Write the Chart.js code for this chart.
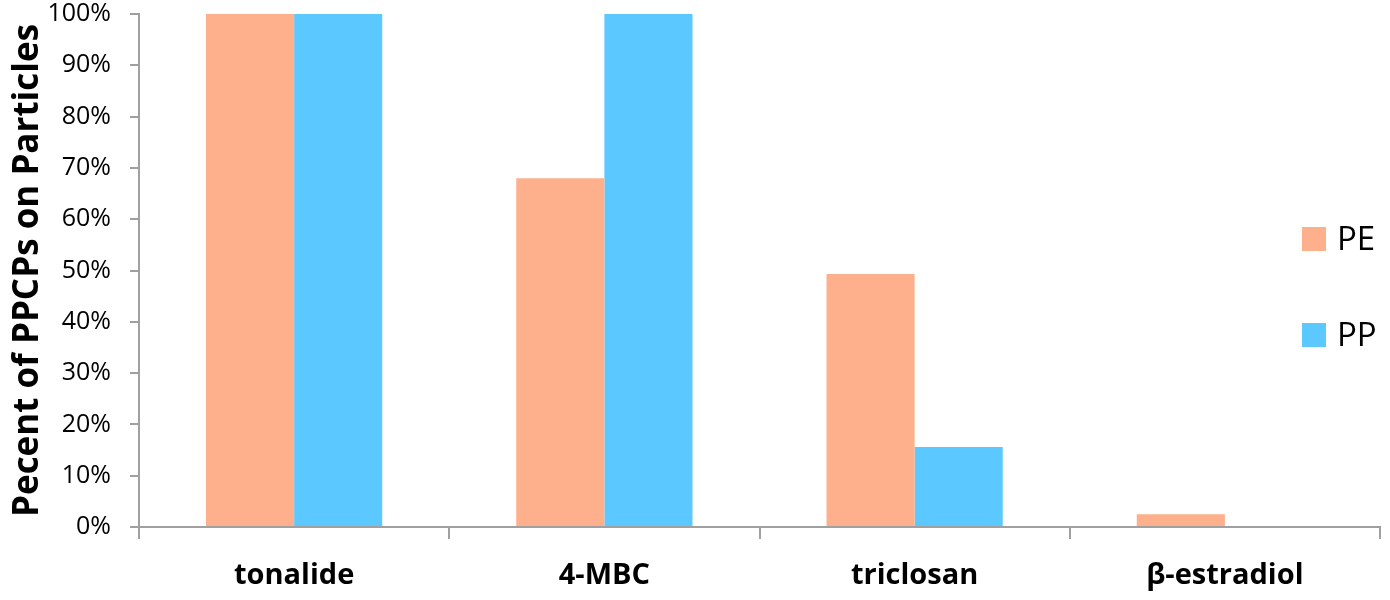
<!DOCTYPE html>
<html><head><meta charset="utf-8">
<script src="https://cdn.jsdelivr.net/npm/chart.js@4"></script>
<style>html,body{margin:0;padding:0;background:#fff}#wrap{width:1390px;height:600px}</style>
</head><body><div id="wrap"><canvas id="c" width="1390" height="600"></canvas></div>
<script>
const categories = ["tonalide", "4-MBC", "triclosan", "β-estradiol"];
const seriesNames = ["PE", "PP"];
const peValues = [100, 68, 49.3, 2.5];
const ppValues = [100, 100, 15.6, 0];
const yTicks = [0,10,20,30,40,50,60,70,80,90,100];
const yTitle = "Pecent of PPCPs on Particles";
const FONT = "'Open Sans', 'Noto Sans', sans-serif";
const colors = ["#FDB08B", "#5BC9FF"];

const legendPlugin = {
  id: 'customLegend',
  afterDraw(chart) {
    const ctx = chart.ctx, a = chart.chartArea;
    ctx.save();
    ctx.font = "33px " + FONT;
    ctx.textBaseline = 'middle';
    chart.data.datasets.forEach((ds, i) => {
      const cy = 239 + i * 96;
      const bx = a.right - 78;
      ctx.fillStyle = ds.backgroundColor;
      ctx.fillRect(bx, cy - 12, 24, 24);
      ctx.fillStyle = '#000';
      ctx.fillText(ds.label, bx + 35, cy + 2);
    });
    ctx.restore();
  }
};

new Chart(document.getElementById('c'), {
  type: 'bar',
  data: {
    labels: categories,
    datasets: [
      { label: seriesNames[0], data: peValues, backgroundColor: colors[0], borderWidth: 0 },
      { label: seriesNames[1], data: ppValues, backgroundColor: colors[1], borderWidth: 0 }
    ]
  },
  options: {
    responsive: false,
    animation: false,
    layout: { padding: { top: 14, right: 10, left: 0, bottom: 0 } },
    plugins: { legend: { display: false }, tooltip: { enabled: false } },
    datasets: { bar: { categoryPercentage: 0.568, barPercentage: 1.0 } },
    scales: {
      x: {
        grid: { display: true, drawOnChartArea: false, drawTicks: true, tickLength: 12, color: '#a0a0a0', lineWidth: 2, offset: true },
        border: { display: true, color: '#a0a0a0', width: 2 },
        ticks: { color: '#000', font: { family: FONT, size: 29, weight: 'bold' }, padding: 19 },
        afterFit(s) { s.height = 73; s.paddingLeft = 0; s.paddingRight = 0; }
      },
      y: {
        min: 0, max: 100,
        afterBuildTicks(s) { s.ticks = yTicks.map(v => ({ value: v })); },
        grid: { display: true, drawOnChartArea: false, drawTicks: true, tickLength: 9, color: '#a0a0a0', lineWidth: 2 },
        border: { display: true, color: '#a0a0a0', width: 2 },
        ticks: { color: '#000', font: { family: FONT, size: 25 }, padding: 19, callback: v => v + '%' },
        title: { display: true, text: yTitle, color: '#000', font: { family: FONT, size: 35, weight: 'bold' }, padding: { top: 7, bottom: 4 } },
        afterFit(s) { s.width = 139; s.paddingTop = 0; s.paddingBottom = 0; }
      }
    }
  },
  plugins: [legendPlugin]
});
</script></body></html>
